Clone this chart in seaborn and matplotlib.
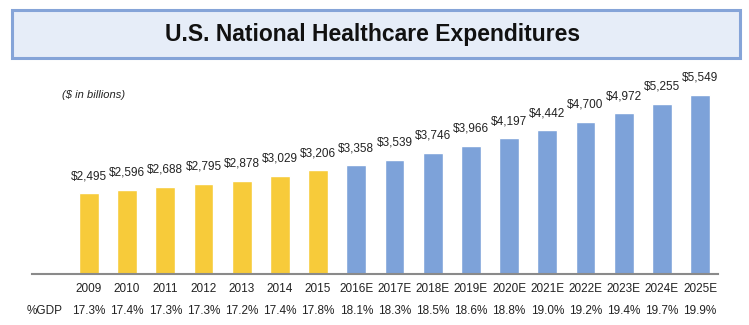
import matplotlib
matplotlib.use("Agg")
import matplotlib.pyplot as plt
import seaborn as sns
import pandas as pd
from matplotlib.patches import Rectangle

years = ["2009", "2010", "2011", "2012", "2013", "2014", "2015", "2016E", "2017E",
         "2018E", "2019E", "2020E", "2021E", "2022E", "2023E", "2024E", "2025E"]
spend = [2495, 2596, 2688, 2795, 2878, 3029, 3206, 3358, 3539,
         3746, 3966, 4197, 4442, 4700, 4972, 5255, 5549]
gdp_pct = ["17.3%", "17.4%", "17.3%", "17.3%", "17.2%", "17.4%", "17.8%", "18.1%", "18.3%",
           "18.5%", "18.6%", "18.8%", "19.0%", "19.2%", "19.4%", "19.7%", "19.9%"]
kind = ["Actual"] * 7 + ["Estimate"] * 10

sns.set_theme(style="white")
plt.rcParams["font.family"] = ["Liberation Sans", "DejaVu Sans"]

df = pd.DataFrame({"year": years, "spend": spend, "kind": kind})

fig = plt.figure(figsize=(7.49, 3.25), dpi=100)
W, H = 749, 325
ax_left, ax_right, ax_top, ax_bottom = 32, 718, 80, 274
ax = fig.add_axes([ax_left / W, (H - ax_bottom) / H, (ax_right - ax_left) / W, (ax_bottom - ax_top) / H])

sns.barplot(data=df, x="year", y="spend", hue="kind",
            palette={"Actual": "#F7CB3A", "Estimate": "#7DA2D9"},
            dodge=False, width=0.52, legend=False, ax=ax, saturation=1)

ax.set_xlim(-1.49, 16.47)
ax.set_ylim(0, 6000)
for s in ["top", "right", "left"]:
    ax.spines[s].set_visible(False)
ax.spines["bottom"].set_color("#8a8a8a")
ax.spines["bottom"].set_linewidth(1.5)
ax.set_yticks([])
ax.set_xlabel("")
ax.set_ylabel("")
ax.tick_params(axis="x", length=0, pad=6.5, labelsize=8.5, colors="#222222")

for i, v in enumerate(spend):
    ax.annotate(f"${v:,}", (i, v), xytext=(0, 8), textcoords="offset points",
                ha="center", va="bottom", fontsize=8.5, color="#222222")

for i, p in enumerate(gdp_pct):
    ax.annotate(p, (i, 0), xycoords=("data", "axes fraction"), xytext=(0, -22),
                textcoords="offset points", ha="center", va="top", fontsize=8.5, color="#222222")
ax.annotate("%GDP", (-1.16, 0), xycoords=("data", "axes fraction"), xytext=(0, -22),
            textcoords="offset points", ha="center", va="top", fontsize=8.5, color="#222222")

fig.text(62 / W, 1 - 95 / H, "($ in billions)", fontsize=8, style="italic",
         color="#222222", ha="left", va="center")

box = Rectangle((12 / W, 1 - 58 / H), (740 - 12) / W, (58 - 10) / H,
                transform=fig.transFigure, facecolor="#E6EDF8", edgecolor="#85A4D8",
                linewidth=2.2, zorder=0)
fig.patches.append(box)
fig.text(373 / W, 1 - 34 / H, "U.S. National Healthcare Expenditures", fontsize=16.5,
         fontweight="bold", color="#111111", ha="center", va="center")

fig.savefig("out.png", dpi=100)
